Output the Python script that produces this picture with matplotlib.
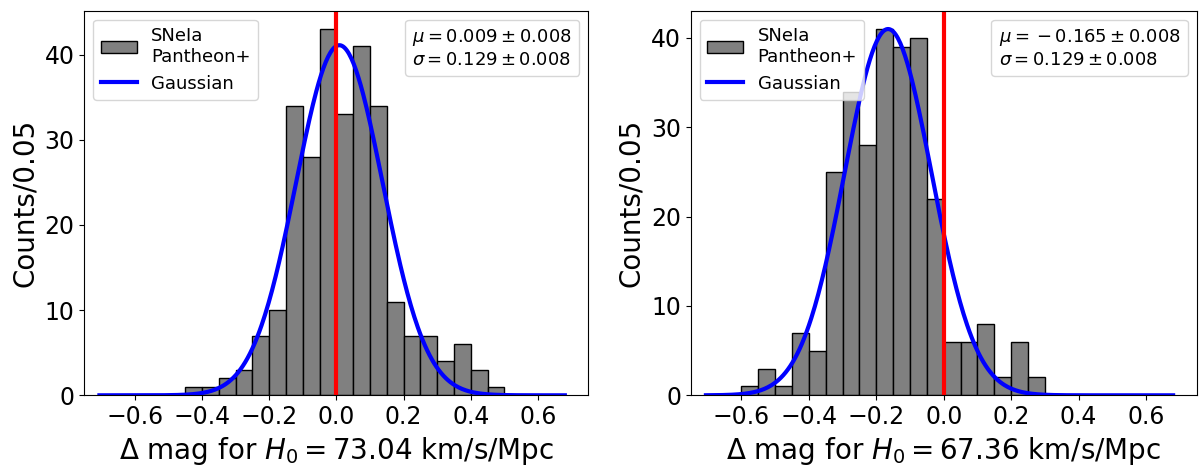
import numpy as np
import matplotlib
matplotlib.use("Agg")
import matplotlib.pyplot as plt
from matplotlib.offsetbox import AnchoredText

# --- histogram data (counts per 0.05 mag bin) ---
bin_width = 0.05

left_edges_h073 = np.round(np.arange(-0.45, 0.50, bin_width), 3)
counts_h073 = [1, 1, 2, 3, 7, 10, 34, 28, 43, 33, 41, 34, 11, 7, 7, 4, 6, 3, 1]

left_edges_h067 = np.round(np.arange(-0.60, 0.30, bin_width), 3)
counts_h067 = [1, 3, 1, 7, 5, 25, 34, 28, 41, 39, 40, 22, 6, 6, 8, 2, 6, 2]

# gaussian fit parameters (amplitude, mean, sigma)
fit_h073 = (41.1, 0.009, 0.129)
fit_h067 = (41.0, -0.165, 0.129)

stats_h073 = r"$\mu = 0.009 \pm 0.008$" + "\n" + r"$\sigma = 0.129 \pm 0.008$"
stats_h067 = r"$\mu = {} - 0.165 \pm 0.008$" + "\n" + r"$\sigma = 0.129 \pm 0.008$"

xlabel_h073 = r"$\Delta$ mag for $H_0 = 73.04$ km/s/Mpc"
xlabel_h067 = r"$\Delta$ mag for $H_0 = 67.36$ km/s/Mpc"

x_curve = np.linspace(-0.705, 0.68, 400)


def draw_panel(ax, edges, counts, fit, stats, xlabel):
    bars = ax.bar(edges, counts, width=bin_width, align='edge', color='gray',
                  edgecolor='black', linewidth=1.0, label='SNeIa\nPantheon+')
    amp, mu, sig = fit
    y_curve = amp * np.exp(-(x_curve - mu) ** 2 / (2 * sig ** 2))
    line, = ax.plot(x_curve, y_curve, color='blue', linewidth=3, label='Gaussian')
    ax.axvline(0.0, color='red', linewidth=3)

    ax.set_xlim(-0.75, 0.75)
    ax.set_xticks([-0.6, -0.4, -0.2, 0.0, 0.2, 0.4, 0.6])
    ax.tick_params(labelsize=17)
    ax.set_xlabel(xlabel, fontsize=20)
    ax.set_ylabel('Counts/0.05', fontsize=20)

    # histogram first, then the fit
    ax.legend(handles=[bars, line], loc='upper left', fontsize=13)

    at = AnchoredText(stats, loc='upper right', prop=dict(size=13), frameon=True)
    at.patch.set_boxstyle('round,pad=0.,rounding_size=0.2')
    at.patch.set_edgecolor('0.8')
    at.patch.set_alpha(0.8)
    ax.add_artist(at)


fig = plt.figure(figsize=(11.99, 4.66), dpi=100)
ax1 = fig.add_axes([0.0703, 0.1517, 0.4204, 0.8253])
ax2 = fig.add_axes([0.5761, 0.1517, 0.4220, 0.8253])

draw_panel(ax1, left_edges_h073, counts_h073, fit_h073, stats_h073, xlabel_h073)
draw_panel(ax2, left_edges_h067, counts_h067, fit_h067, stats_h067, xlabel_h067)

fig.savefig('out.png', dpi=100)
plt.close(fig)
